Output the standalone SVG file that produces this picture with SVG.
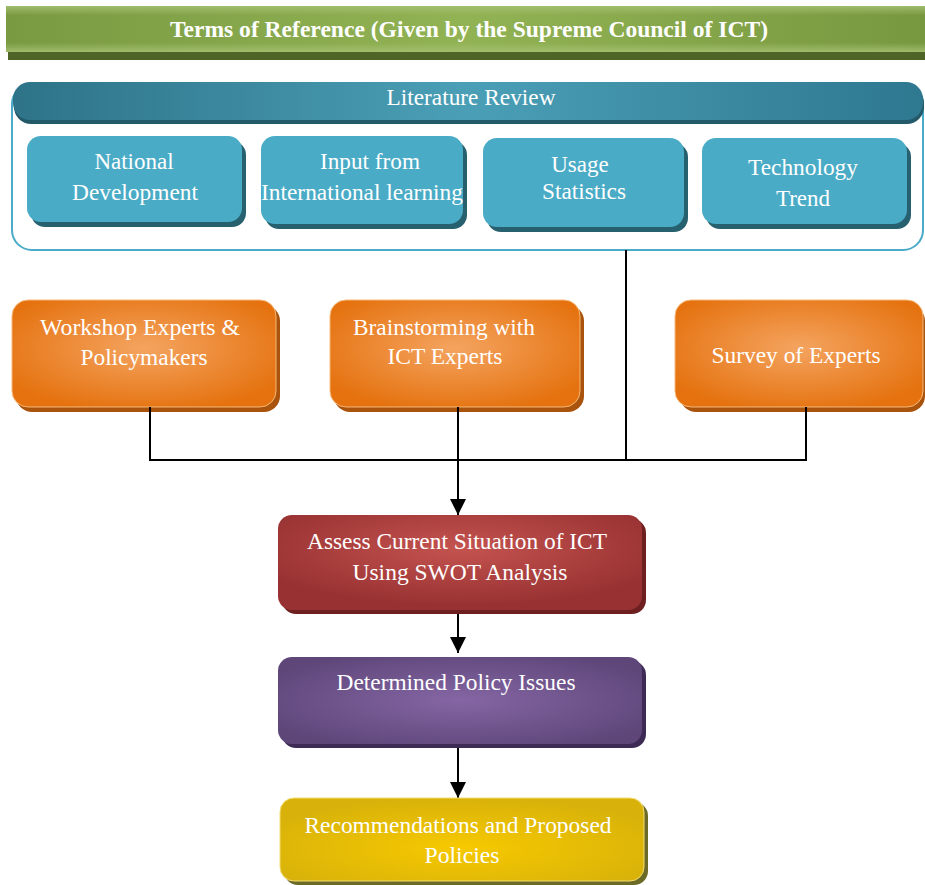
<svg xmlns="http://www.w3.org/2000/svg" width="925" height="885" viewBox="0 0 925 885">
<defs>
<linearGradient id="gTitle" x1="0" y1="0" x2="1" y2="0">
<stop offset="0" stop-color="#7a9a42"/><stop offset="0.5" stop-color="#92b354"/><stop offset="1" stop-color="#789840"/>
</linearGradient>
<linearGradient id="gTitleV" x1="0" y1="0" x2="0" y2="1">
<stop offset="0" stop-color="#a4c070" stop-opacity="0.9"/><stop offset="0.2" stop-color="#a4c070" stop-opacity="0"/><stop offset="0.8" stop-color="#a4c070" stop-opacity="0"/><stop offset="1" stop-color="#a4c070" stop-opacity="0.9"/>
</linearGradient>
<linearGradient id="gLit" x1="0" y1="0" x2="1" y2="0">
<stop offset="0" stop-color="#2e7388"/><stop offset="0.5" stop-color="#4a9fb6"/><stop offset="1" stop-color="#2e7890"/>
</linearGradient>
<radialGradient id="gOrange" cx="0.5" cy="0.45" r="0.6">
<stop offset="0" stop-color="#f4a460"/><stop offset="1" stop-color="#e5720f"/>
</radialGradient>
<radialGradient id="gRed" cx="0.5" cy="0.35" r="0.6">
<stop offset="0" stop-color="#c4534f"/><stop offset="1" stop-color="#983232"/>
</radialGradient>
<radialGradient id="gPurple" cx="0.5" cy="0.5" r="0.6">
<stop offset="0" stop-color="#8566a4"/><stop offset="1" stop-color="#5e4679"/>
</radialGradient>
<radialGradient id="gYellow" cx="0.5" cy="0.6" r="0.6">
<stop offset="0" stop-color="#f7c900"/><stop offset="1" stop-color="#d8b20a"/>
</radialGradient>
<marker id="arr" viewBox="0 0 10 10" refX="10" refY="5" markerWidth="8" markerHeight="8" markerUnits="strokeWidth" orient="auto">
<path d="M0,0 L10,5 L0,10 z" fill="#000"/>
</marker>
</defs>
<style>
text{font-family:"Liberation Serif","Times New Roman",serif;font-size:23px;fill:#ffffff;text-anchor:middle}
.title{font-weight:bold}
.blue{fill:#4aabc6}
.blueSh{fill:#27606f}
.conn{stroke:#000;stroke-width:2;fill:none}
</style>

<g id="title">
<rect x="8" y="12" width="917" height="48" fill="#4f6427"/>
<rect x="6" y="6" width="919" height="46" fill="url(#gTitle)"/>
<rect x="6" y="6" width="919" height="46" fill="url(#gTitleV)"/>
<text class="title" x="469" y="37" textLength="598" lengthAdjust="spacingAndGlyphs">Terms of Reference (Given by the Supreme Council of ICT)</text>
</g>

<g id="literature-review">
<rect x="12" y="84" width="911" height="166" rx="20" fill="#ffffff" stroke="#4aaac8" stroke-width="2"/>
<rect x="14" y="86" width="910" height="38" rx="17" fill="#24596a"/>
<rect x="13" y="82" width="910" height="38" rx="17" fill="url(#gLit)"/>
<text x="471" y="105" textLength="169" lengthAdjust="spacingAndGlyphs">Literature Review</text>
</g>

<g id="national-development">
<rect x="31" y="141" width="215" height="86" rx="14" class="blueSh"/>
<rect x="27" y="136" width="215" height="86" rx="14" class="blue"/>
<text x="134" y="169">National</text>
<text x="135" y="200" textLength="126" lengthAdjust="spacingAndGlyphs">Development</text>
</g>

<g id="international-learning">
<rect x="265" y="141" width="202" height="88" rx="14" class="blueSh"/>
<rect x="261" y="136" width="202" height="88" rx="14" class="blue"/>
<text x="370" y="169" textLength="100" lengthAdjust="spacingAndGlyphs">Input from</text>
<text x="362" y="200" textLength="202" lengthAdjust="spacingAndGlyphs">International learning</text>
</g>

<g id="usage-statistics">
<rect x="487" y="143" width="201" height="89" rx="14" class="blueSh"/>
<rect x="483" y="138" width="201" height="89" rx="14" class="blue"/>
<text x="580" y="172">Usage</text>
<text x="584" y="199" textLength="84" lengthAdjust="spacingAndGlyphs">Statistics</text>
</g>

<g id="technology-trend">
<rect x="706" y="143" width="205" height="86" rx="14" class="blueSh"/>
<rect x="702" y="138" width="205" height="86" rx="14" class="blue"/>
<text x="803" y="175" textLength="110" lengthAdjust="spacingAndGlyphs">Technology</text>
<text x="803" y="206">Trend</text>
</g>

<g id="workshop">
<rect x="16" y="305" width="264" height="107" rx="16" fill="#a9530c"/>
<rect x="12" y="300" width="264" height="107" rx="16" fill="url(#gOrange)" stroke="#f6b878" stroke-width="1"/>
<text x="140" y="335" textLength="200" lengthAdjust="spacingAndGlyphs">Workshop Experts &amp;</text>
<text x="144" y="365" textLength="127" lengthAdjust="spacingAndGlyphs">Policymakers</text>
</g>

<g id="brainstorming">
<rect x="334" y="305" width="250" height="107" rx="16" fill="#a9530c"/>
<rect x="330" y="300" width="250" height="107" rx="16" fill="url(#gOrange)" stroke="#f6b878" stroke-width="1"/>
<text x="444" y="335" textLength="182" lengthAdjust="spacingAndGlyphs">Brainstorming with</text>
<text x="445" y="364" textLength="115" lengthAdjust="spacingAndGlyphs">ICT Experts</text>
</g>

<g id="survey">
<rect x="680" y="305" width="245" height="107" rx="16" fill="#a9530c"/>
<rect x="675" y="300" width="248" height="107" rx="16" fill="url(#gOrange)" stroke="#f6b878" stroke-width="1"/>
<text x="796" y="363" textLength="169" lengthAdjust="spacingAndGlyphs">Survey of Experts</text>
</g>

<g id="connectors">
<line class="conn" x1="150" y1="407" x2="150" y2="460"/>
<line class="conn" x1="806" y1="407" x2="806" y2="460"/>
<line class="conn" x1="626" y1="250" x2="626" y2="460"/>
<line class="conn" x1="149" y1="460" x2="807" y2="460"/>
<line class="conn" x1="458" y1="407" x2="458" y2="515" marker-end="url(#arr)"/>
<line class="conn" x1="458" y1="612" x2="458" y2="653" marker-end="url(#arr)"/>
<line class="conn" x1="458" y1="746" x2="458" y2="798" marker-end="url(#arr)"/>
</g>

<g id="assess">
<rect x="282" y="519" width="364" height="95" rx="14" fill="#6e2020"/>
<rect x="278" y="515" width="364" height="95" rx="14" fill="url(#gRed)"/>
<text x="457" y="549" textLength="300" lengthAdjust="spacingAndGlyphs">Assess Current Situation of ICT</text>
<text x="460" y="580" textLength="215" lengthAdjust="spacingAndGlyphs">Using SWOT Analysis</text>
</g>

<g id="policy-issues">
<rect x="282" y="661" width="364" height="87" rx="14" fill="#3d2b55"/>
<rect x="278" y="657" width="364" height="87" rx="14" fill="url(#gPurple)"/>
<text x="456" y="690" textLength="239" lengthAdjust="spacingAndGlyphs">Determined Policy Issues</text>
</g>

<g id="recommendations">
<rect x="284" y="802" width="364" height="83" rx="14" fill="#6b6a26"/>
<rect x="280" y="798" width="364" height="83" rx="14" fill="url(#gYellow)" stroke="#f3dc70" stroke-width="1"/>
<text x="458" y="833" textLength="307" lengthAdjust="spacingAndGlyphs">Recommendations and Proposed</text>
<text x="462" y="863" textLength="75" lengthAdjust="spacingAndGlyphs">Policies</text>
</g>
</svg>
